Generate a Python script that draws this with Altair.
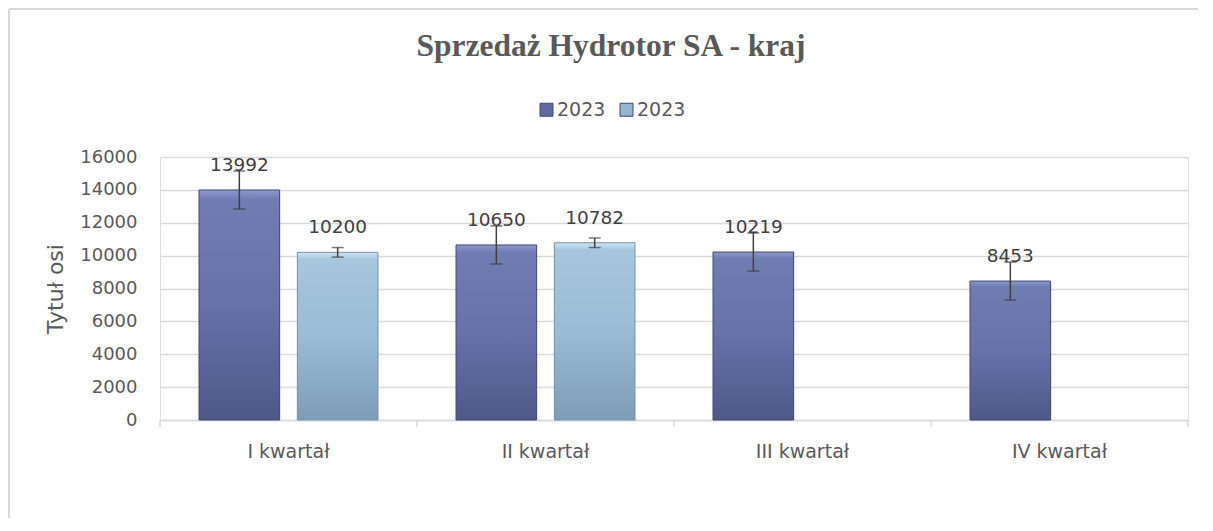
import altair as alt
import pandas as pd

quarters = ["I kwartał", "II kwartał", "III kwartał", "IV kwartał"]
series_keys = ["s1", "s2"]
series_label = "2023"
sales_s1 = [13992, 10650, 10219, 8453]
sales_s2 = [10200, 10782, None, None]
err_s1 = [1157, 1157, 1157, 1157]
err_s2 = [291, 291, None, None]
y_ticks = [0, 2000, 4000, 6000, 8000, 10000, 12000, 14000, 16000]

rows = []
for i, q in enumerate(quarters):
    for key, vals, errs in (("s1", sales_s1, err_s1), ("s2", sales_s2, err_s2)):
        if vals[i] is None:
            continue
        rows.append(dict(quarter=q, series=key, value=vals[i],
                         lo=vals[i] - errs[i], hi=vals[i] + errs[i]))
df = pd.DataFrame(rows)

TXT = "#595959"
GRID = "#d9d9d9"
FONT = "DejaVu Sans"

x_scale = alt.Scale(domain=quarters, paddingInner=0, paddingOuter=0)
x_axis = alt.Axis(title=None, ticks=False, labelFont=FONT, labelFontSize=19,
                  labelColor=TXT, labelPadding=22, labelAngle=0,
                  domainColor=GRID, domainWidth=1.5, grid=False)
y_scale = alt.Scale(domain=[0, 16000], nice=False)
y_axis = alt.Axis(title="Tytuł osi", values=y_ticks, format="d", ticks=False,
                  domain=False, labelFont=FONT, labelFontSize=18, labelColor=TXT,
                  labelPadding=23, gridColor=GRID, gridWidth=1.5,
                  titleFont=FONT, titleFontSize=22, titleFontWeight="normal",
                  titleColor=TXT, titlePadding=12)


def X(**kw):
    return alt.X("quarter:N", sort=quarters, scale=x_scale, axis=x_axis, **kw)


XO = alt.XOffset("series:N", scale=alt.Scale(domain=series_keys, paddingInner=0.18,
                                             paddingOuter=0.3966))


def Y(field):
    return alt.Y(f"{field}:Q", scale=y_scale, axis=y_axis)


base = alt.Chart(df)

frame_data = alt.Data(values=[{"a": 1}])
border_top = alt.Chart(frame_data).mark_rule(color=GRID, strokeWidth=2).encode(
    x=alt.value(-151), x2=alt.value(1100), y=alt.value(-148))
border_left = alt.Chart(frame_data).mark_rule(color=GRID, strokeWidth=2).encode(
    x=alt.value(-151), y=alt.value(-148), y2=alt.value(400))

flat = base.mark_bar().encode(
    x=X(), xOffset=XO, y=Y("value"),
    fill=alt.Fill("series:N", scale=alt.Scale(domain=series_keys,
                                              range=["#5f6b9e", "#94b6d0"]),
                  legend=alt.Legend(title=None, orient="none", direction="horizontal",
                                    legendX=377, legendY=-57, symbolType="square",
                                    symbolSize=169, symbolStrokeWidth=1,
                                    symbolStrokeColor="#3f4873",
                                    labelFont=FONT, labelFontSize=19, labelColor=TXT,
                                    labelOffset=1, columnPadding=11,
                                    labelExpr=f"'{series_label}'")),
)

grad1 = alt.LinearGradient(gradient="linear", x1=0, x2=0, y1=0, y2=1, stops=[
    alt.GradientStop(offset=0, color="#8d99cc"),
    alt.GradientStop(offset=0.04, color="#707db2"),
    alt.GradientStop(offset=0.5, color="#6672a8"),
    alt.GradientStop(offset=1, color="#4e598a")])
grad2 = alt.LinearGradient(gradient="linear", x1=0, x2=0, y1=0, y2=1, stops=[
    alt.GradientStop(offset=0, color="#cfe6f4"),
    alt.GradientStop(offset=0.04, color="#a6c6de"),
    alt.GradientStop(offset=0.5, color="#9bbcd6"),
    alt.GradientStop(offset=1, color="#7c9cb7")])

bars1 = base.transform_filter("datum.series == 's1'").mark_bar(
    fill=grad1, stroke="#414b78", strokeWidth=1
).encode(x=X(), xOffset=XO, y=Y("value"))
bars2 = base.transform_filter("datum.series == 's2'").mark_bar(
    fill=grad2, stroke="#7693ad", strokeWidth=1
).encode(x=X(), xOffset=XO, y=Y("value"))

err_line = base.mark_rule(color="#404040", strokeWidth=1.5).encode(
    x=X(), xOffset=XO, y=Y("lo"), y2="hi:Q")
cap_hi = base.mark_tick(color="#404040", orient="horizontal", size=12, thickness=1.5).encode(
    x=X(), xOffset=XO, y=Y("hi"))
cap_lo = base.mark_tick(color="#404040", orient="horizontal", size=12, thickness=1.5).encode(
    x=X(), xOffset=XO, y=Y("lo"))

labels = base.mark_text(font=FONT, fontSize=18.5, color="#404040", dy=-25,
                        baseline="middle").encode(
    x=X(), xOffset=XO, y=Y("value"), text=alt.Text("value:Q", format="d"))

tick_df = pd.DataFrame({"quarter": quarters})
ticks_a = alt.Chart(tick_df).mark_rule(color=GRID, strokeWidth=1.5).encode(
    x=X(bandPosition=0), y=alt.value(263), y2=alt.value(270))
ticks_b = alt.Chart(tick_df).transform_filter(
    f"datum.quarter == '{quarters[-1]}'").mark_rule(color=GRID, strokeWidth=1.5).encode(
    x=X(bandPosition=1), y=alt.value(263), y2=alt.value(270))

chart = alt.layer(border_top, border_left, flat, bars1, bars2, err_line, cap_hi,
                  cap_lo, labels, ticks_a, ticks_b).properties(
    width=1028, height=263,
    autosize=alt.AutoSizeParams(type="none"),
    padding={"left": 152, "top": 149, "right": 10, "bottom": 98},
    title=alt.Title("Sprzedaż Hydrotor SA - kraj", font="Liberation Serif",
                    fontSize=31.5, fontWeight="bold", color=TXT, anchor="middle",
                    dx=-63, offset=-54),
).configure_view(strokeWidth=0).configure(background="white")

chart.save("out.html", embed_options={"renderer": "svg", "actions": False})
